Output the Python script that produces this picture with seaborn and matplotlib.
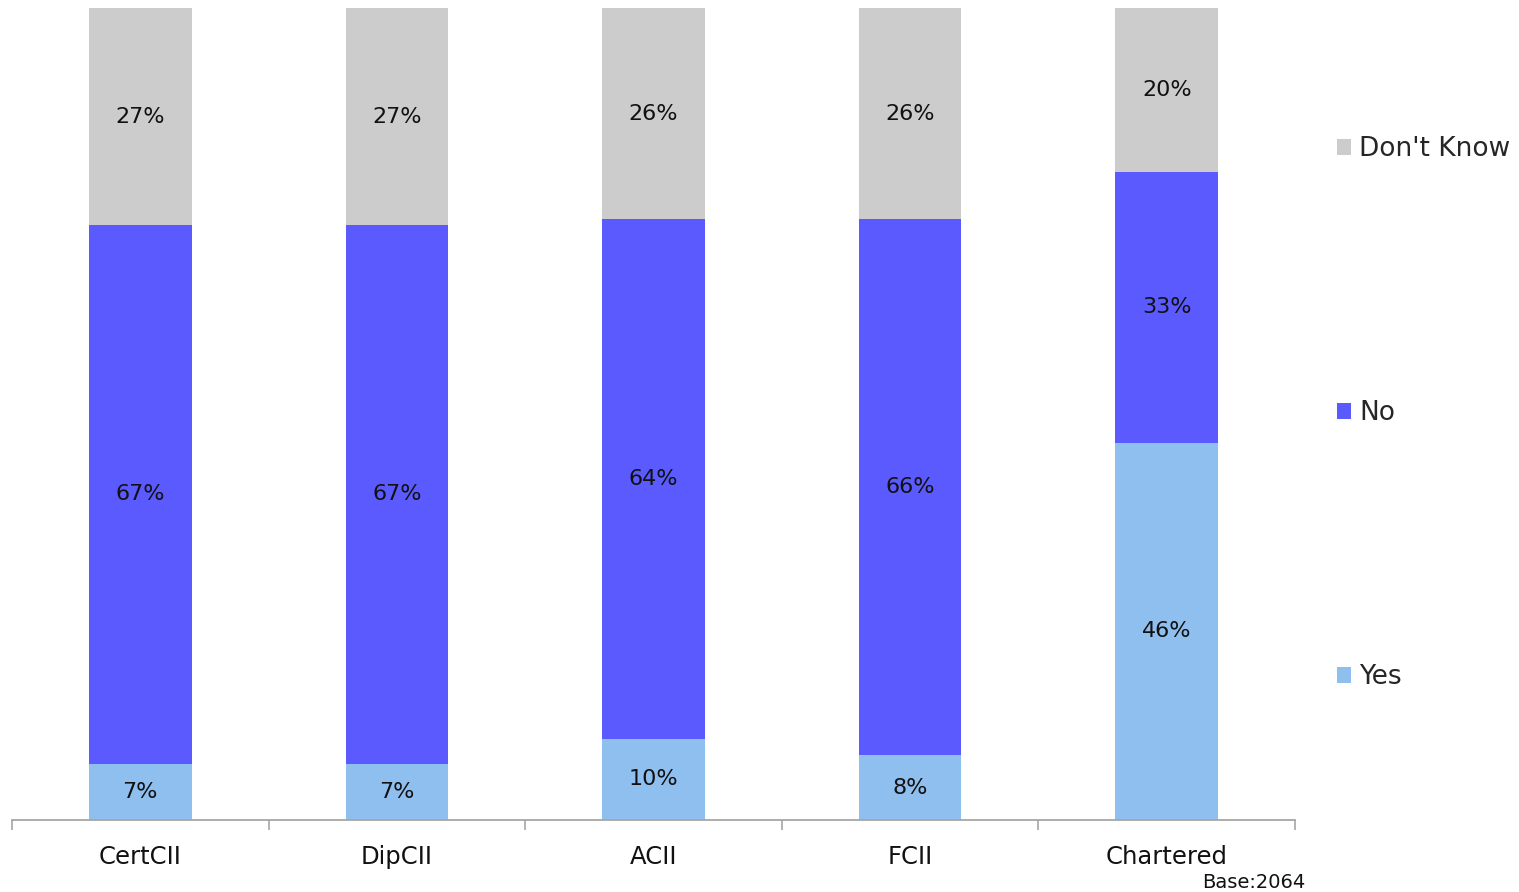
import matplotlib
matplotlib.use("Agg")
import matplotlib.pyplot as plt
import seaborn as sns
import numpy as np
import pandas as pd
from matplotlib.patches import Patch

categories = ["CertCII", "DipCII", "ACII", "FCII", "Chartered"]
yes_vals = [7, 7, 10, 8, 46]
no_vals = [67, 67, 64, 66, 33]
dk_vals = [27, 27, 26, 26, 20]
series_names = ["Yes", "No", "Don't Know"]
colors = {"Yes": "#8FBFEE", "No": "#5A5AFF", "Don't Know": "#CCCCCC"}
base_text = "Base:2064"

sns.set_theme(style="white")
plt.rcParams['font.family'] = ['DejaVu Sans']

raw = {"Yes": yes_vals, "No": no_vals, "Don't Know": dk_vals}
totals = np.array(yes_vals) + np.array(no_vals) + np.array(dk_vals)

fig = plt.figure(figsize=(15.19, 8.92), dpi=100)
ax = fig.add_axes([12/1519, 1 - 820/892, (1295 - 12)/1519, (820 - 8)/892])

bottom = np.zeros(len(categories))
for name in series_names:
    pct = np.array(raw[name]) / totals * 100
    df = pd.DataFrame({"cat": categories, "val": pct})
    n_before = len(ax.containers)
    sns.barplot(data=df, x="cat", y="val", color=colors[name], width=0.4,
                bottom=bottom, ax=ax, saturation=1, linewidth=0)
    cont = ax.containers[n_before]
    ax.bar_label(cont, labels=[f"{v}%" for v in raw[name]], label_type="center",
                 fontsize=16, color="#111111")
    bottom = bottom + pct

ax.set_xlim(-0.5, len(categories) - 0.5)
ax.set_ylim(0, 100)
ax.set_xlabel("")
ax.set_ylabel("")
ax.set_yticks([])
for s in ["top", "right", "left"]:
    ax.spines[s].set_visible(False)
ax.spines["bottom"].set_color("#A6A6A6")
ax.spines["bottom"].set_linewidth(1.3)
ax.set_xticks(range(len(categories)))
ax.set_xticklabels(categories, fontsize=17.5, color="#111111")
ax.tick_params(axis="x", which="major", length=0, pad=18)
ax.set_xticks(np.arange(-0.5, len(categories)), minor=True)
ax.tick_params(axis="x", which="minor", length=7, width=1.2, color="#A6A6A6", direction="out", bottom=True)

handles = [Patch(facecolor=colors[n], edgecolor="none", label=n) for n in reversed(series_names)]
fig.legend(handles=handles, loc="center left", bbox_to_anchor=(1326/1519, 1 - 413/892),
           frameon=False, fontsize=19, handlelength=0.55, handleheight=0.55,
           handletextpad=0.3, labelspacing=9.02, borderaxespad=0)

fig.text(1305/1519, 1 - 882/892, base_text, ha="right", va="center", fontsize=14, color="#111111")

fig.savefig("out.png", dpi=100, facecolor="white")
